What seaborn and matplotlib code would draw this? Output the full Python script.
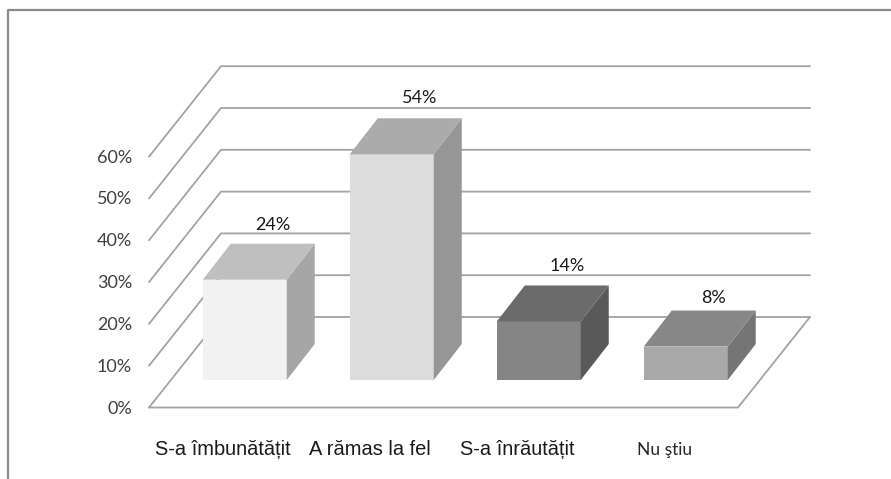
import matplotlib
matplotlib.use('Agg')
import matplotlib.pyplot as plt
import seaborn as sns
import pandas as pd
from matplotlib.patches import Polygon

categories = ['S-a îmbunătățit', 'A rămas la fel', 'S-a înrăutățit', 'Nu ştiu']
values = [24, 54, 14, 8]
ticks = [0, 10, 20, 30, 40, 50, 60]
front_colors = ['#f2f2f2', '#dcdcdc', '#858585', '#a9a9a9']
top_colors = ['#bfbfbf', '#ababab', '#6b6b6b', '#878787']
side_colors = ['#a6a6a6', '#969696', '#595959', '#757575']

W, H = 891, 479
# масштаб: пикселей на категорию и на один процент
PX_CAT = 147.0
PX_PCT = 4.18
X0_PX, Y0_PX = 244.75, 380.0


def dx(px):
    return px / PX_CAT


def dy(px):
    return px / PX_PCT


sns.set_theme(style='white')
plt.rcParams['font.family'] = ['Lato', 'DejaVu Sans']

fig = plt.figure(figsize=(W / 100, H / 100), dpi=100)
ax = fig.add_axes([0, 0, 1, 1])

df = pd.DataFrame({'cat': categories, 'val': values})
sns.barplot(data=df, x='cat', y='val', hue='cat', palette=front_colors, saturation=1,
            width=84 / PX_CAT, legend=False, dodge=False, ax=ax, zorder=3, linewidth=0)

ax.set_xlim(-X0_PX / PX_CAT, (W - X0_PX) / PX_CAT)
ax.set_ylim((Y0_PX - H) / PX_PCT, Y0_PX / PX_PCT)
ax.axis('off')

# пол и стенка: сдвиг перспективы
floor_dx, floor_dy = dx(72), dy(90.5)
front_dx, front_dy = dx(-21.6), dy(-27.5)
left = -0.5 + dx(149 - X0_PX + 73.5)
right = left + dx(589)
grid_c = '#a3a3a3'
for t in ticks:
    y = t + front_dy
    x_front = left
    ax.plot([x_front, x_front + floor_dx, right + floor_dx],
            [y, y + floor_dy, y + floor_dy], color=grid_c, lw=1.3, zorder=1,
            solid_joinstyle='miter')
    ax.text(x_front + dx(-17), y - dy(1), f'{t}%', ha='right', va='center',
            fontsize=13, color='#404040')
ax.plot([left, right, right + floor_dx], [front_dy, front_dy, front_dy + floor_dy],
        color=grid_c, lw=1.3, zorder=1, solid_joinstyle='miter')

# боковые и верхние грани столбиков
depth_x, depth_y = dx(28), dy(36)
label_pad = [11, 12, 11, 5]
for i, bar in enumerate(ax.patches):
    x0 = bar.get_x()
    x1 = x0 + bar.get_width()
    h = bar.get_height()
    ax.add_patch(Polygon([(x1, 0), (x1 + depth_x, depth_y), (x1 + depth_x, h + depth_y), (x1, h)],
                         facecolor=side_colors[i], edgecolor='none', zorder=3))
    ax.add_patch(Polygon([(x0, h), (x1, h), (x1 + depth_x, h + depth_y), (x0 + depth_x, h + depth_y)],
                         facecolor=top_colors[i], edgecolor='none', zorder=3))
    ax.text(i + depth_x, h + depth_y + dy(label_pad[i]), f'{values[i]}%', ha='center', va='bottom',
            fontsize=13, color='#1a1a1a')
    if i == 3:
        ax.text(i + front_dx, -dy(75), categories[i], ha='center', va='baseline',
                fontsize=12.5, color='#262626')
    else:
        ax.text(i + front_dx, -dy(75), categories[i], ha='center', va='baseline',
                fontsize=14.4, color='#1a1a1a', family=['Liberation Sans', 'DejaVu Sans'])

# рамка диаграммы
fig.add_artist(plt.Line2D([7.5 / W, 7.5 / W, 1], [0, 1 - 10 / H, 1 - 10 / H],
                          color='#8c8c8c', lw=1.6))

fig.savefig('out.png', dpi=100)
